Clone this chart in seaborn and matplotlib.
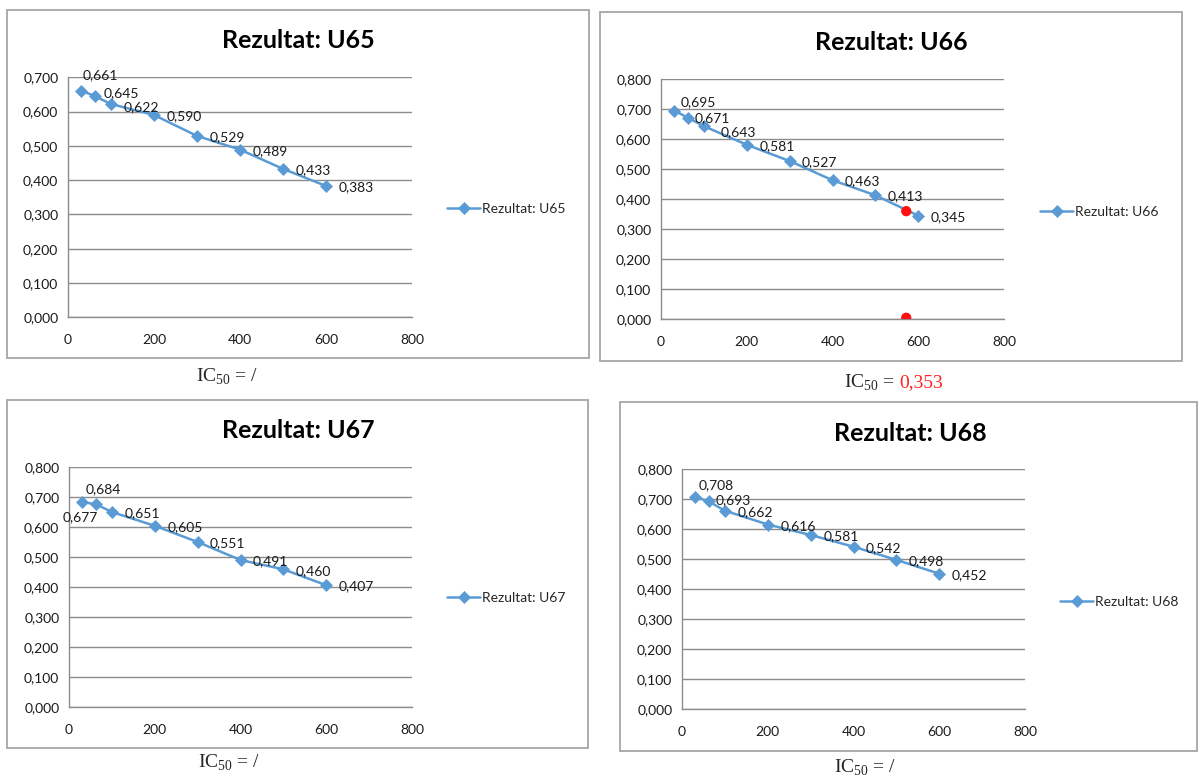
import matplotlib
matplotlib.use("Agg")
import matplotlib.pyplot as plt
import seaborn as sns
from matplotlib.patches import Rectangle
from matplotlib.ticker import FuncFormatter, MultipleLocator

# data
conc = [31.25, 62.5, 100, 200, 300, 400, 500, 600]
u65 = [0.661, 0.645, 0.622, 0.590, 0.529, 0.489, 0.433, 0.383]
u66 = [0.695, 0.671, 0.643, 0.581, 0.527, 0.463, 0.413, 0.345]
u67 = [0.684, 0.677, 0.651, 0.605, 0.551, 0.491, 0.460, 0.407]
u68 = [0.708, 0.693, 0.662, 0.616, 0.581, 0.542, 0.498, 0.452]
names = ["U65", "U66", "U67", "U68"]
ymax = [0.7, 0.8, 0.8, 0.8]
ic50_text = ["/", "0,353", "/", "/"]
# red helper points drawn on U66
ic50_x = [572, 572]
ic50_y = [0.360, 0.005]

sns.set_style("white")
plt.rcParams["font.family"] = ["Lato", "DejaVu Sans"]
plt.rcParams["mathtext.fontset"] = "custom"
plt.rcParams["mathtext.rm"] = "Liberation Serif"

W, H = 1200, 778
fig = plt.figure(figsize=(W / 100, H / 100), dpi=100)

blue = "#5B9BD5"
gray = "#8C8C8C"

# layout in pixels
boxes = [(7, 10, 589, 358), (600, 12, 1182, 361), (7, 400, 588, 748), (620, 402, 1197, 751)]
plots = [(68, 77.3, 412, 317.3), (661, 79, 1004, 319.3), (69, 467.3, 412, 707.3), (682, 469.3, 1025, 709.3)]
titles = [(298, 40), (891, 42), (298, 430), (910, 434)]
legends = [(447, 209), (1040, 212), (447, 598), (1060, 602)]
captions = [(227, 377), (897, 383), (229, 763), (865, 768)]
offsets = [{0: (1, 11), 1: (6, 2.5), 2: (9, -2.5)},
           {0: (4.5, 6), 1: (5, 0), 2: (12, -4)},
           {0: (2.5, 9.5), 1: (-24, -9.5)},
           {0: (2, 8.5), 1: (5, 1)}]

fmt = FuncFormatter(lambda v, p: f"{v:.3f}".replace(".", ","))

for i, vals in enumerate([u65, u66, u67, u68]):
    x0, y0, x1, y1 = boxes[i]
    fig.patches.append(Rectangle((x0 / W, 1 - y1 / H), (x1 - x0) / W, (y1 - y0) / H,
                                 transform=fig.transFigure, fill=False,
                                 edgecolor="#A6A6A6", linewidth=1.3))
    l, t, r, b = plots[i]
    ax = fig.add_axes([l / W, 1 - b / H, (r - l) / W, (b - t) / H])

    sns.lineplot(x=conc, y=vals, marker="D", markersize=6, color=blue,
                 markeredgecolor=blue, markeredgewidth=0.5, linewidth=1.8,
                 label="Rezultat: " + names[i], ax=ax, zorder=3)
    if i == 1:
        sns.scatterplot(x=ic50_x, y=ic50_y, color="#FF1010", s=55, edgecolor="none",
                        ax=ax, zorder=4, legend=False)

    for j, (xv, yv) in enumerate(zip(conc, vals)):
        dx, dy = offsets[i].get(j, (9, -1))
        ax.annotate(f"{yv:.3f}".replace(".", ","), (xv, yv), xytext=(dx, dy),
                    textcoords="offset points", ha="left", va="center",
                    fontsize=10, color="#1a1a1a", zorder=5)

    ax.set_xlim(0, 800)
    ax.set_ylim(0, ymax[i])
    ax.xaxis.set_major_locator(MultipleLocator(200))
    ax.yaxis.set_major_locator(MultipleLocator(0.1))
    ax.yaxis.set_major_formatter(fmt)
    ax.grid(axis="y", color=gray, linewidth=1)
    ax.grid(axis="x", visible=False)
    for s in ["top", "right"]:
        ax.spines[s].set_visible(False)
    for s in ["left", "bottom"]:
        ax.spines[s].set_color(gray)
        ax.spines[s].set_linewidth(1)
    ax.tick_params(axis="both", direction="out", length=4, width=1, color=gray,
                   labelsize=10, labelcolor="#1a1a1a")
    ax.tick_params(axis="y", pad=3)
    ax.tick_params(axis="x", pad=8)
    ax.set_xlabel("")
    ax.set_ylabel("")

    lx, ly = legends[i]
    ax.legend(loc="center left", bbox_to_anchor=(lx / W, 1 - ly / H),
              bbox_transform=fig.transFigure, frameon=False, fontsize=10,
              handlelength=2.4, handletextpad=0.1, borderaxespad=0, borderpad=0)

    tx, ty = titles[i]
    fig.text(tx / W, 1 - ty / H, "Rezultat: " + names[i], ha="center", va="center",
             fontsize=18, fontweight="bold", color="black")

    cx, cy = captions[i]
    if ic50_text[i] == "/":
        fig.text(cx / W, 1 - cy / H, r"IC$_{\mathrm{50}}$ = /", ha="center", va="center",
                 fontsize=14, family="Liberation Serif")
    else:
        fig.text((cx - 2) / W, 1 - cy / H, r"IC$_{\mathrm{50}}$ =", ha="right", va="center",
                 fontsize=14, family="Liberation Serif")
        fig.text((cx + 2) / W, 1 - cy / H, ic50_text[i], ha="left", va="center",
                 fontsize=14, family="Liberation Serif", color="#FF2020")

fig.savefig("out.png", dpi=100, facecolor="white")
